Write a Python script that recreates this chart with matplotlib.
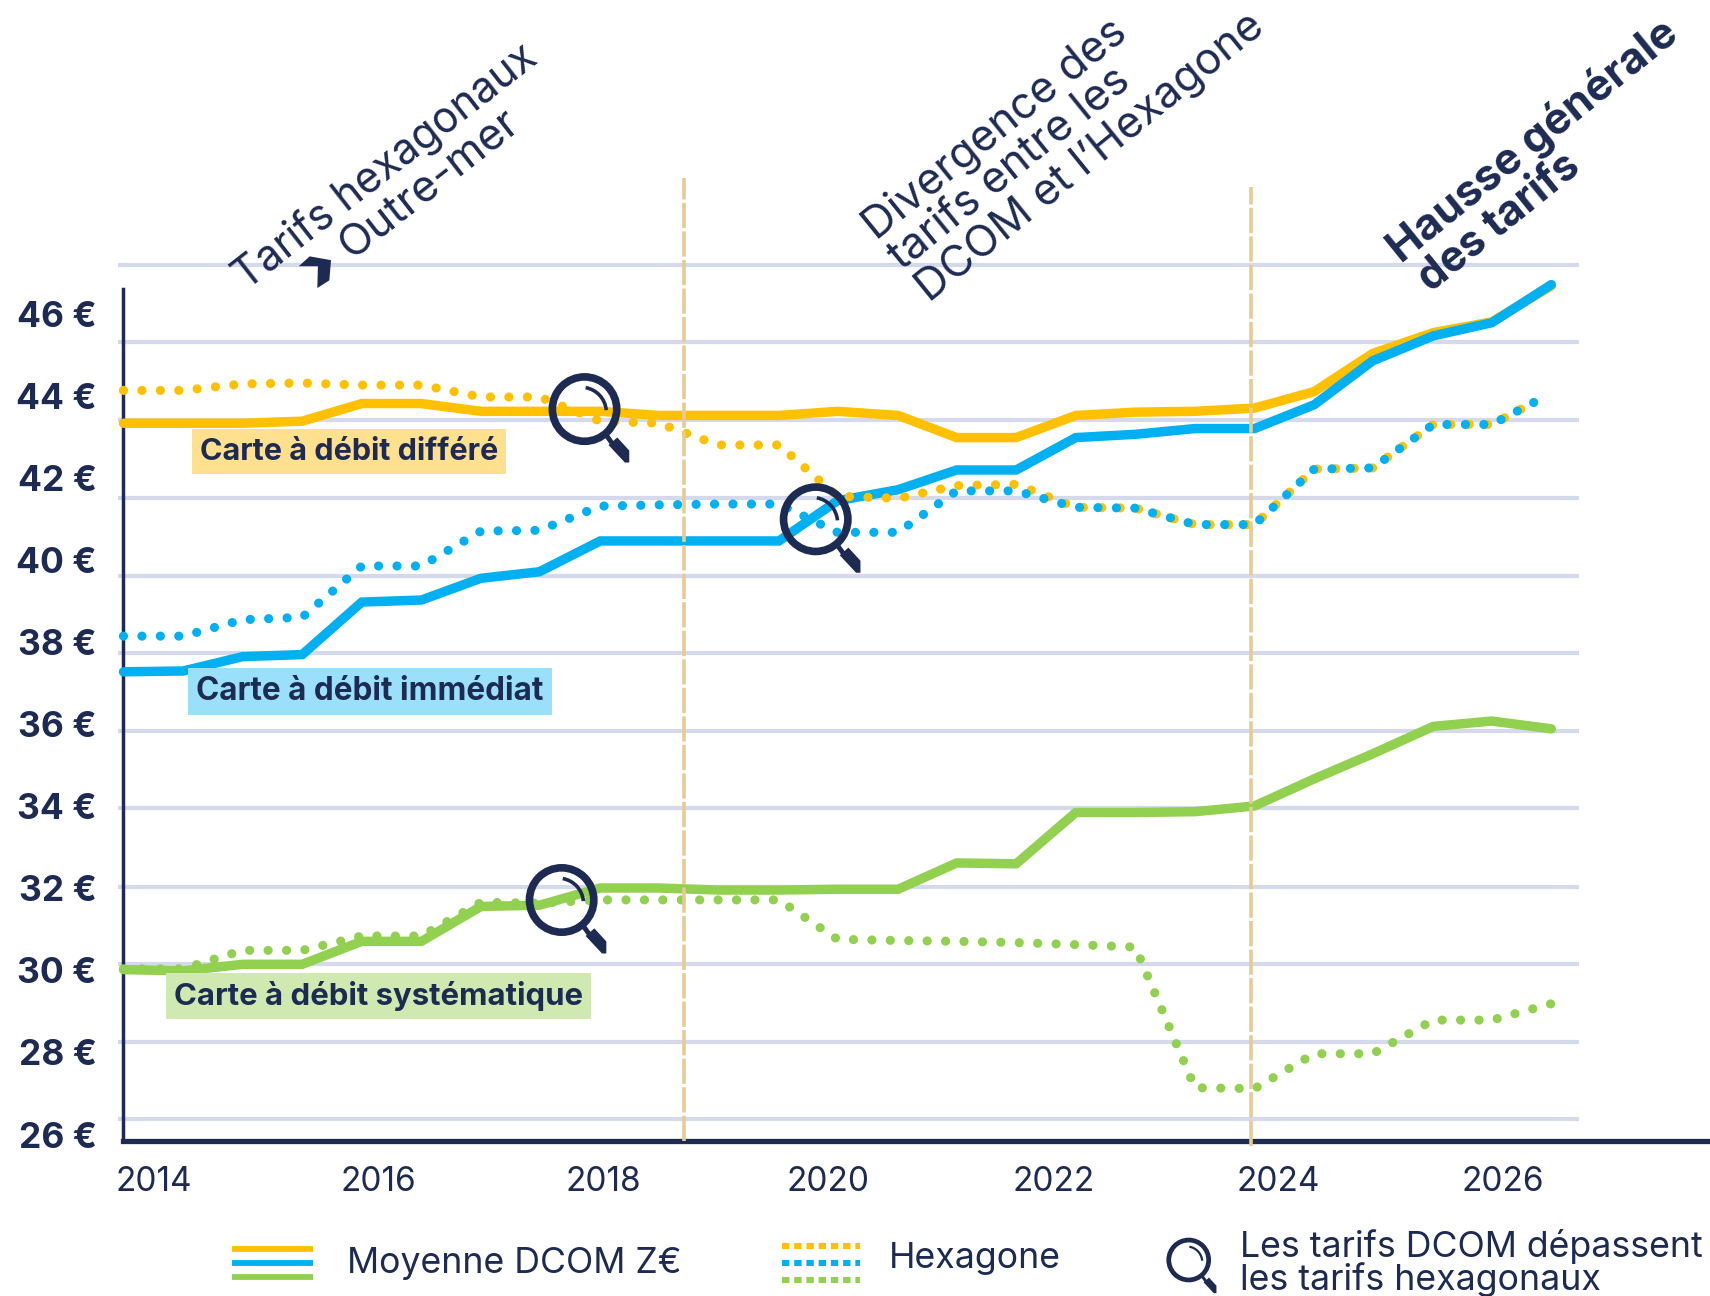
import matplotlib
matplotlib.use("Agg")
import matplotlib.pyplot as plt
from matplotlib.patches import Ellipse, Arc, Polygon

plt.rcParams['font.family'] = ['Inter', 'DejaVu Sans']

# Semesters (the points do not sit exactly on the year labels)
x_points = [2013.73, 2014.26, 2014.79, 2015.32, 2015.85, 2016.38, 2016.91, 2017.43, 2017.97,
            2018.49, 2019.02, 2019.56, 2020.08, 2020.62, 2021.14, 2021.67, 2022.20, 2022.73,
            2023.26, 2023.79, 2024.32, 2024.84, 2025.38, 2025.90, 2026.43]
x_hexagone = x_points[:-1] + [2026.29]

differe_dcom = [43.34, 43.34, 43.34, 43.39, 43.82, 43.82, 43.63, 43.63, 43.63, 43.53, 43.53, 43.53,
                43.63, 43.53, 42.99, 42.99, 43.53, 43.61, 43.63, 43.71, 44.11, 45.04, 45.55, 45.81, 46.69]
immediat_dcom = [37.28, 37.30, 37.65, 37.70, 38.98, 39.03, 39.56, 39.72, 40.47, 40.47, 40.47, 40.47,
                 41.45, 41.72, 42.20, 42.20, 42.99, 43.07, 43.21, 43.21, 43.79, 44.86, 45.47, 45.79, 46.72]
systematique_dcom = [30.02, 29.99, 30.15, 30.15, 30.71, 30.71, 31.56, 31.59, 32.01, 32.01, 31.96, 31.96,
                     31.98, 31.98, 32.62, 32.60, 33.85, 33.85, 33.87, 34.01, 34.67, 35.28, 35.95, 36.08, 35.89]

differe_hex = [44.14, 44.14, 44.30, 44.32, 44.27, 44.27, 43.98, 43.98, 43.39, 43.34, 42.81, 42.81,
               41.56, 41.51, 41.82, 41.85, 41.29, 41.27, 40.87, 40.87, 42.22, 42.25, 43.31, 43.31, 43.87]
immediat_hex = [38.15, 38.15, 38.55, 38.61, 39.86, 39.86, 40.71, 40.73, 41.32, 41.35, 41.37, 41.37,
                40.68, 40.68, 41.69, 41.69, 41.29, 41.27, 40.87, 40.87, 42.22, 42.25, 43.31, 43.31, 43.87]
systematique_hex = [30.04, 30.04, 30.49, 30.49, 30.84, 30.84, 31.66, 31.64, 31.72, 31.72, 31.72, 31.72,
                    30.76, 30.73, 30.71, 30.68, 30.63, 30.57, 27.14, 27.12, 27.97, 27.97, 28.79, 28.79, 29.19]

y_ticks = [26, 28, 30, 32, 34, 36, 38, 40, 42, 44, 46]
x_ticks = [2014, 2016, 2018, 2020, 2022, 2024, 2026]
grid_values = [26.37, 28.26, 30.15, 32.04, 33.95, 35.84, 37.73, 39.62, 41.51, 43.42, 45.31, 47.20]
period_breaks = [2018.72, 2023.76]

NAVY = '#1d2b53'
YELLOW = '#ffc000'
BLUE = '#00b0f0'
GREEN = '#92d050'

W, H = 1568, 1188  # coordinates used for the decorations

fig = plt.figure(figsize=(17.1, 12.96), dpi=100)
ax = fig.add_axes([113 / W, 1 - 1046 / H, 1 - 113 / W, (1046 - 265) / H])
ax.set_xlim(2013.728, 2027.841)
ax.set_ylim(25.84, 46.61)

# Overlay for annotations
deco = fig.add_axes([0, 0, 1, 1], zorder=5)
deco.set_xlim(0, W)
deco.set_ylim(H, 0)
deco.axis('off')
deco.patch.set_alpha(0)

for s in ['top', 'right']:
    ax.spines[s].set_visible(False)
ax.spines['left'].set_color(NAVY)
ax.spines['left'].set_linewidth(2.5)
ax.spines['bottom'].set_color(NAVY)
ax.spines['bottom'].set_linewidth(3.8)

for g in grid_values:
    ax.plot([2013.68, 2026.68], [g, g], color='#d5d9ec', lw=3, clip_on=False, zorder=1,
            solid_capstyle='butt')

# Solid lines
for vals, col in [(differe_dcom, YELLOW), (systematique_dcom, GREEN), (immediat_dcom, BLUE)]:
    ax.plot(x_points, vals, color=col, lw=6.8, zorder=3, solid_joinstyle='miter',
            solid_capstyle='round', clip_on=False)

# Dotted lines
for xs, vals, col in [(x_hexagone, differe_hex, YELLOW), (x_points, systematique_hex, GREEN),
                      (x_hexagone, immediat_hex, BLUE)]:
    ax.plot(xs, vals, color=col, lw=6.6, zorder=3, linestyle=(0, (0.01, 2.0)),
            dash_capstyle='round', clip_on=False)

ax.plot([period_breaks[0]] * 2, [25.84, 49.32], color='#e6cc92', lw=2.6, zorder=4,
        linestyle=(0, (7, 0.9)), clip_on=False)
ax.plot([period_breaks[1]] * 2, [25.73, 49.09], color='#e6cc92', lw=2.6, zorder=4,
        linestyle=(0, (7, 0.9)), clip_on=False)

ax.set_xticks(x_ticks)
ax.set_xticklabels([str(x) for x in x_ticks], fontsize=24, color=NAVY)
ax.set_yticks(y_ticks)
ax.set_yticklabels([f'{y} €' for y in y_ticks], fontsize=25.5, color=NAVY, fontweight='bold')
ax.tick_params(axis='x', length=0, pad=18)
ax.tick_params(axis='y', length=0, pad=19)

# Card labels
card_labels = [("Carte à débit différé", 320, 414, '#fee08f', 22),
               ("Carte à débit immédiat", 339, 634, '#9be0fa', 22.7),
               ("Carte à débit systématique", 347, 913, '#cfe9b0', 22.4)]
for txt, cx, cy, bg, fs in card_labels:
    deco.text(cx, cy, txt, ha='center', va='center', fontsize=fs, fontweight='bold', color=NAVY,
              bbox=dict(fc=bg, ec='none', pad=6))

# Rotated headings
headings = [("Tarifs hexagonaux", 226, 267, 38, 'normal', 30.5),
            ("Outre-mer", 322, 238, 38, 'normal', 31.5),
            ("Divergence des", 804, 221, 39, 'normal', 31.5),
            ("tarifs entre les", 827, 248, 39, 'normal', 31.5),
            ("DCOM et l\u2019Hexagone", 852, 278, 39, 'normal', 31.5),
            ("Hausse générale", 1285, 242, 39, 'bold', 31.5),
            ("des tarifs", 1312, 269, 39, 'bold', 30.5)]
for txt, tx, ty, rot, w, fs in headings:
    deco.text(tx, ty, txt, rotation=rot, rotation_mode='anchor', ha='left', va='baseline',
              fontsize=fs, color=NAVY, fontweight=w)

# arrow between "Tarifs" and "Outre-mer"
deco.add_patch(Polygon([(274, 244), (284, 235), (303.5, 238.5), (302, 257), (291, 264), (291.5, 244)],
                       fc=NAVY, ec='none'))


def magnifier(cx, cy, s=1.0):
    deco.add_patch(Ellipse((cx, cy), 59 * s, 59 * s, fc='none', ec=NAVY, lw=5.5 * s))
    deco.add_patch(Arc((cx - 3 * s, cy + 3 * s), 46 * s, 46 * s, theta1=-80, theta2=-5,
                       ec=NAVY, lw=2.6 * s))
    deco.plot([cx + 20 * s, cx + 25 * s], [cy + 24 * s, cy + 31 * s], color=NAVY, lw=3.5 * s,
              solid_capstyle='butt')
    deco.add_patch(Polygon([(cx + 22 * s, cy + 33 * s), (cx + 30 * s, cy + 26 * s), (cx + 41 * s, cy + 38 * s),
                            (cx + 41 * s, cy + 49 * s), (cx + 37 * s, cy + 49 * s)], fc=NAVY, ec='none'))


magnifier(536, 375)
magnifier(748, 476)
magnifier(515, 825)
magnifier(1090, 1155, 0.62)

# Legend
for y0, col in [(1145, YELLOW), (1158, BLUE), (1171, GREEN)]:
    deco.plot([213, 287], [y0, y0], color=col, lw=4.2, solid_capstyle='butt')
for y0, col in [(1142.5, YELLOW), (1158, BLUE), (1173, GREEN)]:
    deco.plot([717, 789], [y0, y0], color=col, lw=4.4, linestyle=(0, (1.2, 0.8)), dash_capstyle='butt')
deco.text(318, 1158, "Moyenne DCOM Z€", fontsize=25.7, color=NAVY, va='center')
deco.text(815, 1154, "Hexagone", fontsize=25.7, color=NAVY, va='center')
deco.text(1137, 1143, "Les tarifs DCOM dépassent", fontsize=25.7, color=NAVY, va='center')
deco.text(1137, 1173, "les tarifs hexagonaux", fontsize=25.7, color=NAVY, va='center')

plt.savefig('out.png', dpi=100)
